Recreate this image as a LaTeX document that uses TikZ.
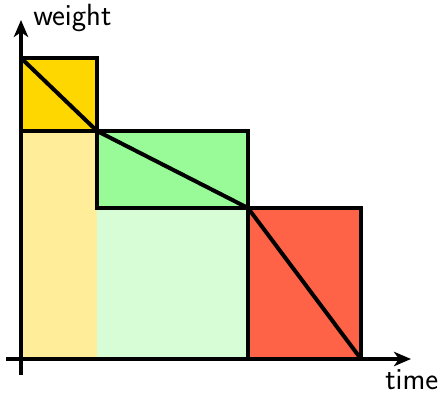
\documentclass[tikz,border=0pt]{standalone}
\usetikzlibrary{arrows.meta}
\definecolor{gc}{RGB}{255,215,0}
\definecolor{lgc}{RGB}{255,237,153}
\definecolor{nc}{RGB}{152,251,152}
\definecolor{lnc}{RGB}{214,253,214}
\definecolor{tc}{RGB}{255,99,71}
\tikzset{blk/.style={draw,line width=2.6pt},
 axis/.style={line width=3.2pt,-{Stealth[length=4.5mm,width=3.8mm,inset=1.3mm]}},
 diag/.style={line width=3pt,line cap=round},
 lbl/.style={font=\sffamily\fontsize{23}{26}\selectfont,inner sep=0pt}}
\begin{document}
\begin{tikzpicture}[x=0.75pt,y=-0.75pt]
\useasboundingbox (0,0) rectangle (439,395);
\coordinate (o) at (21,359);
\coordinate (p1) at (21,58);
\coordinate (p2) at (97,131);
\coordinate (p3) at (248,208);
\coordinate (p4) at (361,359);
% pale areas under the steps
\fill[lgc] (21,131) rectangle (97,359);
\fill[lnc] (97,208) rectangle (248,359);
% step boxes
\draw[blk,fill=gc] (p1) rectangle (p2);
\draw[blk,fill=nc] (p2) rectangle (p3);
\draw[blk,fill=tc] (p3) rectangle (p4);
\draw[diag] (p1)--(p2)--(p3)--(p4);
% axes
\coordinate (xs) at (6,359);
\coordinate (xe) at (411,359);
\coordinate (ys) at (21,375);
\coordinate (ye) at (21,20);
\draw[axis] (xs)--(xe);
\draw[axis] (ys)--(ye);
\node[lbl,anchor=base west] (w) at (33,26) {weight};
\node[lbl,anchor=base west] (t) at (385,389) {time};
\end{tikzpicture}
\end{document}
